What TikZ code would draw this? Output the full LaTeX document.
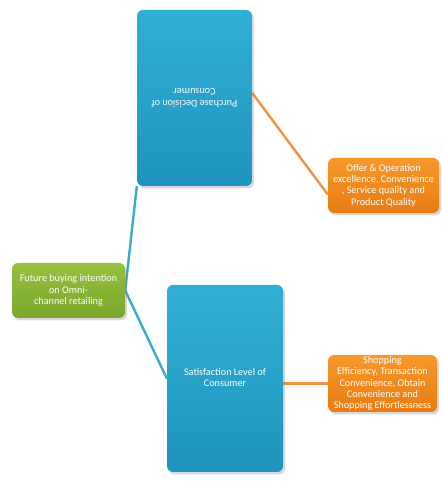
\documentclass[tikz,border=0pt]{standalone}
\usepackage{fontspec}
\setmainfont{Carlito}
\usetikzlibrary{shadows,positioning,backgrounds}
\definecolor{bluetop}{RGB}{48,175,214}
\definecolor{bluebot}{RGB}{30,148,190}
\definecolor{greentop}{RGB}{150,194,62}
\definecolor{greenbot}{RGB}{122,166,44}
\definecolor{orangetop}{RGB}{248,152,44}
\definecolor{orangebot}{RGB}{232,124,18}
\definecolor{blueline}{RGB}{58,170,204}
\definecolor{orangeline}{RGB}{240,146,64}
\tikzset{
  x=1pt,y=1pt,
  boxbase/.style={rounded corners=6pt, align=center, text=white, inner sep=1pt,
     font=\fontsize{10.2}{11.4}\selectfont,
     drop shadow={opacity=0.3, shadow xshift=2pt, shadow yshift=-2.5pt}},
  bluebx/.style={boxbase, top color=bluetop, bottom color=bluebot, draw=none},
  greenbx/.style={boxbase, top color=greentop, bottom color=greenbot, draw=none},
  orangebx/.style={boxbase, top color=orangetop, bottom color=orangebot, draw=none},
  blueconn/.style={draw=blueline, line width=2.4pt},
  orangeconn/.style={draw=orangeline, line width=2.4pt},
}
\begin{document}
\begin{tikzpicture}
\useasboundingbox (0,0) rectangle (441,489);
\node[bluebx, minimum width=115pt, minimum height=176pt, rotate=180] (tb) at (194.5,391) {Purchase Decision of\\Consumer};
\node[orangebx, minimum width=111pt, minimum height=55pt] (ot) at (383.5,303.5) {Offer \& Operation\\excellence, Convenience\\, Service quality and\\Product Quality};
\node[greenbx, minimum width=113pt, minimum height=55pt] (gr) at (68.5,198.5) {Future buying intention\\on Omni-\\channel retailing};
\node[bluebx, minimum width=116pt, minimum height=187pt] (bb) at (225,110.5) {\raisebox{-7pt}{\begin{tabular}{@{}c@{}}Satisfaction Level of\\Consumer\end{tabular}}};
\node[orangebx, minimum width=109pt, minimum height=57pt] (ob) at (382.5,105.5) {Shopping\\Efficiency, Transaction\\Convenience, Obtain\\Convenience and\\Shopping Effortlessness};
\begin{scope}[on background layer]
\draw[blueconn] (gr.east) -- (tb.north east);
\draw[blueconn] (gr.east) -- (bb.west);
\draw[orangeconn] ([yshift=5pt]tb.west) -- ([yshift=-9pt]ot.west);
\draw[orangeconn] (bb.east |- ob.west) -- (ob.west);
\end{scope}
\end{tikzpicture}
\end{document}
